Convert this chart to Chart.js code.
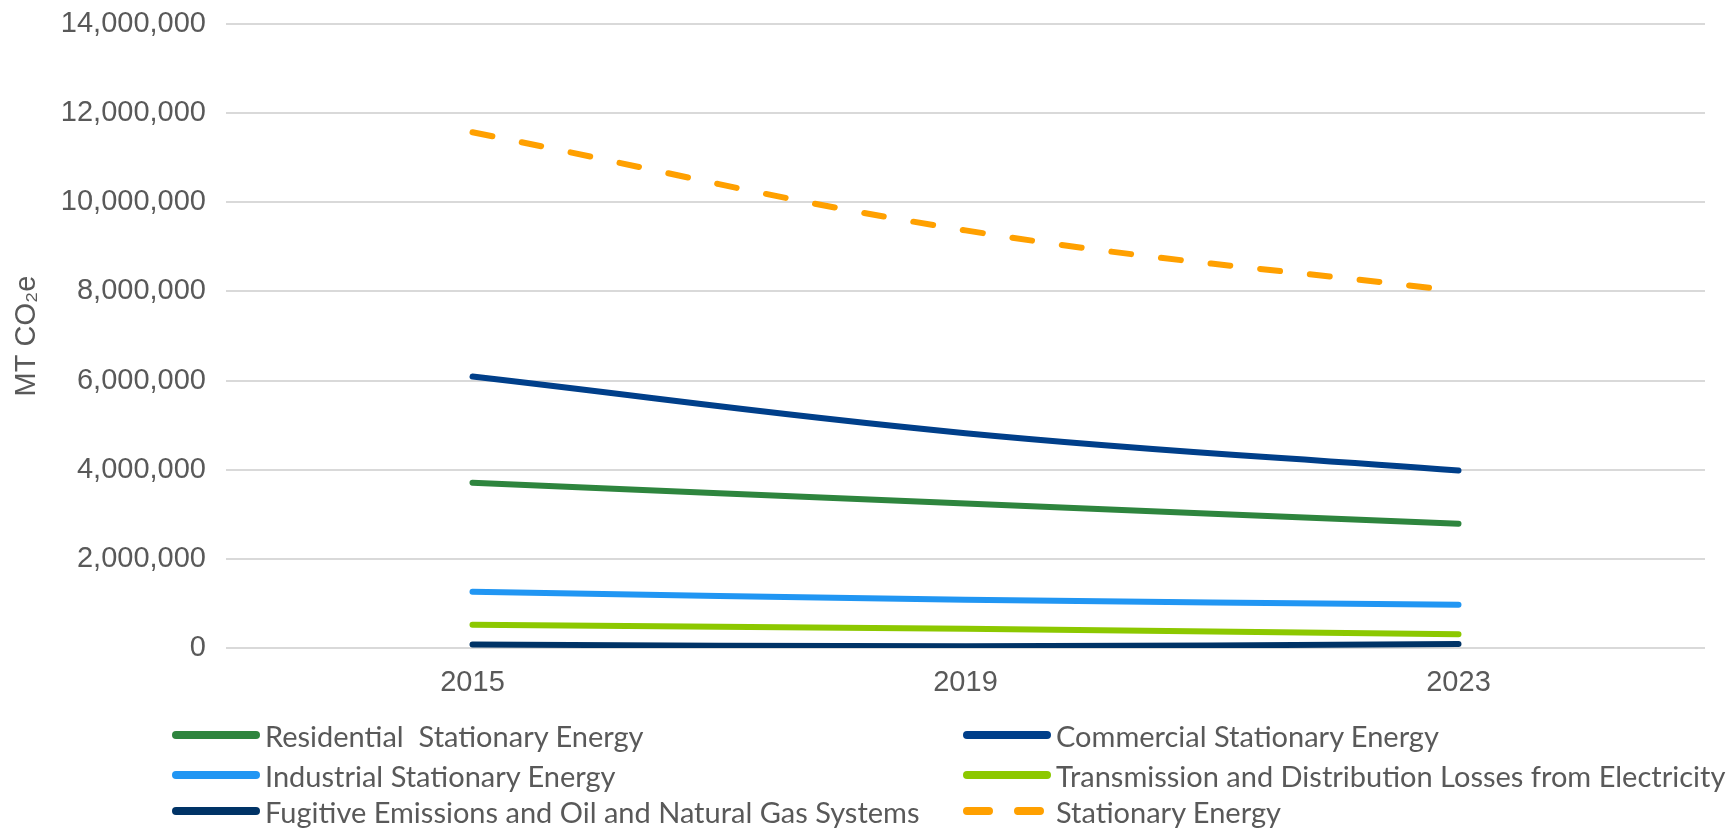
<!DOCTYPE html>
<html>
<head>
<meta charset="utf-8">
<script src="https://cdn.jsdelivr.net/npm/chart.js@4"></script>
<style>
  html, body { margin: 0; padding: 0; background: #fff; }
  #wrap { position: relative; width: 1727px; height: 828px; }
  #legend { position: absolute; left: 0; top: 0; width: 1727px; height: 828px; pointer-events: none; }
  .item { position: absolute; display: flex; align-items: center; height: 38px;
          font-family: Lato, "Open Sans", sans-serif; font-size: 29px; color: #595959; white-space: pre; }
  .item svg { margin-right: 4px; }
</style>
</head>
<body>
<div id="wrap">
  <canvas id="graph"></canvas>
  <div id="legend"></div>
</div>
<script>
const years = ['2015', '2019', '2023'];

const residential = [3710000, 3240000, 2790000];
const commercial  = [6090000, 4820000, 3980000];
const industrial  = [1260000, 1080000, 970000];
const td_losses   = [520000, 430000, 310000];
const fugitive    = [80000, 40000, 90000];
const stationary  = [11570000, 9370000, 8000000];

const y_ticks = [0, 2000000, 4000000, 6000000, 8000000, 10000000, 12000000, 14000000];

const series_names = [
  'Residential  Stationary Energy',
  'Commercial Stationary Energy',
  'Industrial Stationary Energy',
  'Transmission and Distribution Losses from Electricity',
  'Fugitive Emissions and Oil and Natural Gas Systems',
  'Stationary Energy',
];

const tick_font = { family: '"Liberation Sans", Arial, sans-serif', size: 29 };
const grey      = '#595959';

const line = (label, data, color, dash) => ({
  label,
  data,
  borderColor: color,
  backgroundColor: color,
  borderWidth: 6,
  borderCapStyle: 'round',
  borderDash: dash || [],
  tension: 0.4,
  pointRadius: 0,
  fill: false,
});

const chart = new Chart(graph, {
  type: 'line',
  data: {
    labels: years,
    datasets: [
      line(series_names[0], residential, '#2e853e'),
      line(series_names[1], commercial,  '#003f8a'),
      line(series_names[2], industrial,  '#2196f3'),
      line(series_names[3], td_losses,   '#8cc800'),
      line(series_names[4], fugitive,    '#003366'),
      line(series_names[5], stationary,  '#ffa000', [20, 30]),
    ],
  },
  options: {
    responsive: true,
    maintainAspectRatio: false,
    animation: false,
    layout: { padding: { left: 0, right: 22, top: 24, bottom: 120 } },
    plugins: {
      legend: { display: false },
      tooltip: { enabled: false },
    },
    scales: {
      x: {
        offset: true,
        grid: { display: false, drawTicks: false },
        border: { display: false },
        ticks: { color: grey, font: tick_font, padding: 18, maxRotation: 0 },
        afterFit: s => { s.height = 60; },
      },
      y: {
        min: 0,
        max: 14000000,
        afterBuildTicks: s => { s.ticks = y_ticks.map(v => ({ value: v })); },
        grid: { color: '#d9d9d9', lineWidth: 2, drawTicks: false },
        border: { display: false },
        ticks: {
          color: grey,
          font: tick_font,
          padding: 20,
          callback: v => v.toLocaleString('en-US'),
        },
        title: {
          display: true,
          text: 'MT CO\u2082e',
          color: grey,
          font: tick_font,
          padding: { top: 10, bottom: 0 },
        },
        // fixed axis width, and no extra room above the top label
        afterFit: s => { s.width = 226; s.paddingTop = 0; s.paddingBottom = 0; },
      },
    },
  },
});

// Two-column legend built from the datasets
const legend_cols = [171, 962];
const legend_rows = [735, 775, 811];
chart.data.datasets.forEach((ds, i) => {
  const el = document.createElement('div');
  el.className = 'item';
  el.style.left = legend_cols[i % 2] + 'px';
  el.style.top  = (legend_rows[Math.floor(i / 2)] - 19) + 'px';
  const dashed = ds.borderDash.length > 0;
  el.innerHTML =
    '<svg width="90" height="12"><line x1="5" y1="6" x2="85" y2="6" stroke="' + ds.borderColor +
    '" stroke-width="8" stroke-linecap="round"' + (dashed ? ' stroke-dasharray="22 29"' : '') +
    '/></svg>';
  const txt = document.createElement('span');
  txt.textContent = ds.label;
  el.appendChild(txt);
  legend.appendChild(el);
});
</script>
</body>
</html>
